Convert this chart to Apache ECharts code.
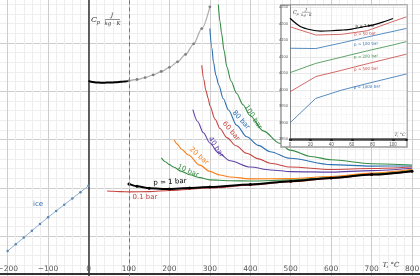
<!DOCTYPE html>
<html><head><meta charset="utf-8">
<script src="https://cdn.jsdelivr.net/npm/echarts@6/dist/echarts.min.js"></script>
<style>html,body{margin:0;padding:0;background:#fff}#c{width:420px;height:276px}</style>
</head><body><div id="c"></div>
<script>
// ---------- main chart data (T in °C, cp in J/(kg·K)) ----------
const iceT   = [-200,-180,-160,-140,-120,-100,-80,-60,-40,-20,0];
const iceCp  = [690,830,970,1110,1250,1389,1520,1650,1780,1910,2040];
const liqT   = [0,10,20,30,40,50,60,70,80,90,100];
const liqCp  = [4217,4192,4182,4178,4179,4181,4184,4190,4196,4205,4216];
const satT   = [100,120,140,160,180,200,220,240,260,280,300];
const satCp  = [4216,4245,4285,4340,4410,4497,4610,4765,4984,5300,5750];
const p1T    = [100,120,150,200,250,300,400,500,600,700,800];
const p1Cp   = [2080,2030,1990,1975,1995,2015,2070,2135,2205,2275,2345];
const p01T   = [46,60,80,100,150,200,300,400,500,600,700,800];
const p01Cp  = [1935,1928,1920,1915,1920,1945,1995,2055,2125,2195,2270,2340];
const p10T   = [180,190,200,210,230,250,275,300,350,400,500,600,700,800];
const p10Cp  = [2620,2540,2480,2430,2340,2270,2210,2165,2145,2140,2165,2215,2290,2362];
const p20T   = [212,220,230,247,275,300,325,350,400,500,600,700,800];
const p20Cp  = [2990,2900,2800,2680,2470,2340,2265,2225,2185,2190,2235,2305,2383];
const p40T   = [258,270,284,300,320,350,400,450,500,600,700,800];
const p40Cp  = [3620,3370,3140,2930,2730,2560,2430,2370,2335,2325,2355,2404];
const p60T   = [280,285,290,296,300,313,325,342,365,391,420,449,500,600,700,800];
const p60Cp  = [4540,4250,4020,3850,3700,3420,3230,3040,2870,2715,2600,2508,2430,2380,2400,2431];
const p80T   = [300,305,309,315,322,333,346,366,391,420,449,498,600,700,800];
const p80Cp  = [5300,4900,4600,4330,4130,3850,3612,3300,3059,2880,2748,2611,2480,2450,2452];
const p100T  = [321,325,329,335,342,352,366,382,399,432,473,498,550,600,700,800];
const p100Cp = [5800,5450,5200,4850,4510,4220,3959,3720,3500,3180,2922,2780,2650,2580,2500,2472];
const xTicksMain = [-200,-100,0,100,200,300,400,500,600,700,800];
const yTicksMain = [1000,2000,3000,4000,5000];

// ---------- inset data ----------
const ins1T    = [0,10,20,30,40,50,60,70,80,90,100];
const ins1Cp   = [4217,4192,4182,4178,4179,4181,4184,4190,4196,4205,4216];
const insT     = [0,25,50,75,100,113];
const ins50Cp  = [4191,4166,4168,4179,4207,4221];
const ins100Cp = [4126,4125,4142,4160,4177,4186];
const ins200Cp = [4052,4080,4099,4118,4136,4146];
const ins500Cp = [3994,4040,4059,4079,4098,4108];
const ins1000Cp= [3900,3974,3999,4019,4038,4048];
const insLabels = ['p = 1 bar','p = 50 bar','p = 100 bar','p = 200 bar','p = 500 bar','p = 1000 bar'];
const mainLabels = ['ice','0.1 bar','p = 1 bar','10 bar','20 bar','40 bar','60 bar','80 bar','100 bar'];

const zip = (a,b) => a.map((v,i)=>[v,b[i]]);
const C = {red:'#c74440', blue:'#2d70b3', green:'#388c46', purple:'#6042a6', orange:'#fa7e19', black:'#000'};

function line(name, T, cp, color, width, extra) {
  return Object.assign({
    type:'line', name, data: zip(T,cp), xAxisIndex:0, yAxisIndex:0,
    showSymbol:false, symbol:'none', smooth:0.3, smoothMonotone:'x',
    lineStyle:{color, width}, itemStyle:{color}, z:3, silent:true
  }, extra||{});
}
function iline(name, T, cp, color, width, extra) {
  return Object.assign({
    type:'line', name, data: zip(T,cp), xAxisIndex:1, yAxisIndex:1,
    showSymbol:false, symbol:'none', smooth:false,
    lineStyle:{color, width}, itemStyle:{color}, z:40, silent:true
  }, extra||{});
}
const dash = (color) => ({silent:true, symbol:['none','none'], label:{show:false},
  lineStyle:{type:[4,3], color, width:1}, data:[{xAxis:100}]});

const fmtMinus = v => v < 0 ? '\u2212' + (-v) : String(v);
const lbl = (x, y, rot, text, fill) => ({type:'text', z:12, x, y, rotation:rot,
  style:{text, fill, font:'7px DejaVu Sans', align:'center', verticalAlign:'middle'}});
const ilbl = (x, y, text, fill) => ({type:'text', z:50, x, y, rotation:0.05,
  style:{text, fill, font:'4px DejaVu Sans', align:'center', verticalAlign:'middle'}});

const option = {
  animation:false,
  backgroundColor:'#fff',
  grid:[
    {left:-32.8, right:-32.5, top:-5.2, bottom:-8.3, outerBoundsMode:'none', containLabel:false},
    {left:290, right:13.6, top:5, bottom:136.7, outerBoundsMode:'none', containLabel:false}
  ],
  xAxis:[
    {type:'value', gridIndex:0, min:-300, max:900, interval:100, offset:-10.3,
     axisLine:{show:true, onZero:false, lineStyle:{color:'#333', width:2}},
     axisTick:{show:false},
     axisLabel:{inside:true, margin:1, fontSize:7.5, color:'#555', fontFamily:'DejaVu Sans',
       formatter: v => xTicksMain.includes(v) ? fmtMinus(v) : ''},
     splitLine:{show:true, lineStyle:{color:'#cdcdcd', width:1}},
     minorTick:{show:false, splitNumber:5},
     minorSplitLine:{show:true, lineStyle:{color:'#eeeeee', width:1}}},
    {type:'value', gridIndex:1, min:0, max:113, interval:20, z:30,
     axisLine:{show:true, onZero:false, lineStyle:{color:'#444', width:2.5}},
     axisTick:{show:true, length:1.5, lineStyle:{color:'#111', width:2.5}},
     axisLabel:{margin:3, fontSize:4.5, color:'#555', formatter: v => v % 20 === 0 ? String(v) : ''},
     splitLine:{show:true, lineStyle:{color:'#e2e2e2', width:0.8}},
     minorTick:{show:false, splitNumber:4},
     minorSplitLine:{show:true, lineStyle:{color:'#f3f3f3', width:0.6}}}
  ],
  yAxis:[
    {type:'value', gridIndex:0, min:0, max:6000, interval:1000,
     axisLine:{show:true, onZero:true, lineStyle:{color:'#333', width:1.5}},
     axisTick:{show:false},
     axisLabel:{margin:3, fontSize:7.5, color:'#555', fontFamily:'DejaVu Sans',
       formatter: v => yTicksMain.includes(v) ? String(v) : ''},
     splitLine:{show:true, lineStyle:{color:'#cdcdcd', width:1}},
     minorTick:{show:false, splitNumber:5},
     minorSplitLine:{show:true, lineStyle:{color:'#eeeeee', width:1}}},
    {type:'value', gridIndex:1, min:3850, max:4257, interval:50, z:30,
     axisLine:{show:true, onZero:false, lineStyle:{color:'#888', width:1}},
     axisTick:{show:false},
     axisLabel:{margin:2, fontSize:4, color:'#555', formatter: v => v % 50 === 0 ? String(v) : ''},
     splitLine:{show:true, lineStyle:{color:'#e2e2e2', width:0.8}},
     minorTick:{show:false, splitNumber:2},
     minorSplitLine:{show:true, lineStyle:{color:'#f3f3f3', width:0.6}}}
  ],
  series:[
    line('ice', iceT, iceCp, '#8fb0d2', 1, {showSymbol:true, symbol:'circle', symbolSize:2.5, smooth:false, itemStyle:{color:'#5d86b3'}}),
    line('liquid', liqT, liqCp, C.black, 2, {markLine: dash('#777')}),
    line('satliq', satT, satCp, '#b0b0b0', 1.3, {showSymbol:true, symbol:'circle', symbolSize:2.8, itemStyle:{color:'#808080'}}),
    line('0.1 bar', p01T, p01Cp, C.red, 1.1),
    line('10 bar', p10T, p10Cp, C.green, 1.1),
    line('20 bar', p20T, p20Cp, C.orange, 1.1),
    line('40 bar', p40T, p40Cp, C.purple, 1.1),
    line('60 bar', p60T, p60Cp, C.red, 1.1),
    line('80 bar', p80T, p80Cp, C.blue, 1.1),
    line('100 bar', p100T, p100Cp, C.green, 1.1),
    line('1 bar', p1T, p1Cp, C.black, 2, {showSymbol:true, symbol:'circle', symbolSize:3, z:4}),
    iline('i1', ins1T, ins1Cp, C.black, 1.2, {smooth:0.3, markLine: dash('#888')}),
    iline('i50', insT, ins50Cp, C.red, 0.8),
    iline('i100', insT, ins100Cp, C.blue, 0.8),
    iline('i200', insT, ins200Cp, C.green, 0.8),
    iline('i500', insT, ins500Cp, C.red, 0.8),
    iline('i1000', insT, ins1000Cp, C.blue, 0.8)
  ],
  graphic:{elements:[
    // inset frame
    {type:'rect', z:10, shape:{x:281, y:5, width:126, height:142}, style:{fill:'#fff', stroke:'#9a9a9a', lineWidth:1.5}},
    // main curve labels
    lbl(38, 204, 0, mainLabels[0], C.blue),
    lbl(145, 197, 0, mainLabels[1], C.red),
    lbl(170, 182, 0.06, mainLabels[2], '#000'),
    lbl(188, 171, -0.42, mainLabels[3], C.green),
    lbl(199, 156, -0.72, mainLabels[4], C.orange),
    lbl(216, 147, -1.0, mainLabels[5], C.purple),
    lbl(231, 131, -0.87, mainLabels[6], C.red),
    lbl(241, 120, -0.85, mainLabels[7], C.blue),
    lbl(253, 117, -1.0, mainLabels[8], C.green),
    // main axis names
    {type:'text', z:12, x:391, y:265.5, style:{text:'T, \u00b0C', fill:'#333', font:'italic 7px DejaVu Serif', align:'center', verticalAlign:'middle'}},
    {type:'text', z:12, x:91, y:20, style:{text:'C', fill:'#333', font:'italic 8px DejaVu Serif', align:'left', verticalAlign:'middle'}},
    {type:'text', z:12, x:96.5, y:23, style:{text:'p', fill:'#333', font:'italic 5.5px DejaVu Serif', align:'left', verticalAlign:'middle'}},
    {type:'text', z:12, x:112, y:15.5, style:{text:'J', fill:'#333', font:'italic 6px DejaVu Serif', align:'center', verticalAlign:'middle'}},
    {type:'line', z:12, shape:{x1:105, y1:19.5, x2:120, y2:19.5}, style:{stroke:'#444', lineWidth:0.6}},
    {type:'text', z:12, x:112.5, y:23.5, style:{text:'kg \u00b7 K', fill:'#333', font:'italic 5.5px DejaVu Serif', align:'center', verticalAlign:'middle'}},
    // inset labels
    ilbl(365, 26, insLabels[0], '#000'),
    ilbl(365, 34, insLabels[1], C.red),
    ilbl(366, 44, insLabels[2], C.blue),
    ilbl(366, 56.5, insLabels[3], C.green),
    ilbl(366, 69, insLabels[4], C.red),
    ilbl(367, 87, insLabels[5], C.blue),
    {type:'text', z:50, x:400, y:135, style:{text:'T, \u00b0C', fill:'#333', font:'italic 4.5px DejaVu Serif', align:'center', verticalAlign:'middle'}},
    {type:'text', z:50, x:293, y:13, style:{text:'C', fill:'#333', font:'italic 5px DejaVu Serif', align:'left', verticalAlign:'middle'}},
    {type:'text', z:50, x:296.5, y:14.5, style:{text:'p', fill:'#333', font:'italic 3.5px DejaVu Serif', align:'left', verticalAlign:'middle'}},
    {type:'text', z:50, x:306, y:10, style:{text:'J', fill:'#333', font:'italic 4px DejaVu Serif', align:'center', verticalAlign:'middle'}},
    {type:'line', z:50, shape:{x1:302, y1:12.3, x2:311, y2:12.3}, style:{stroke:'#444', lineWidth:0.4}},
    {type:'text', z:50, x:306.5, y:15, style:{text:'kg \u00b7 K', fill:'#333', font:'italic 3.5px DejaVu Serif', align:'center', verticalAlign:'middle'}}
  ]}
};
const chart = echarts.init(document.getElementById('c'), null, {renderer:'canvas'});
chart.setOption(option);
</script></body></html>
